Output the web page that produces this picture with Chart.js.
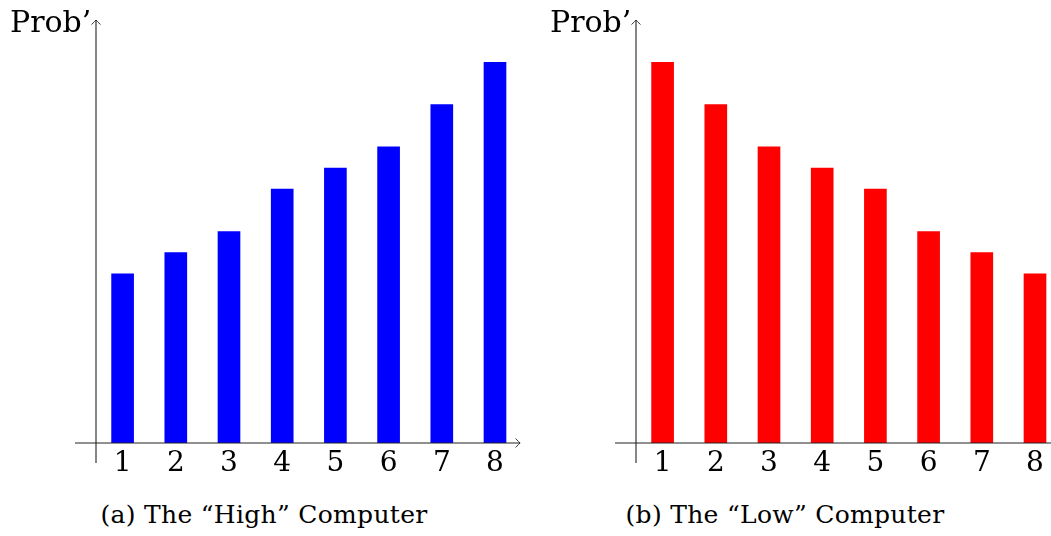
<!DOCTYPE html>
<html>
<head>
<meta charset="utf-8">
<script src="https://cdn.jsdelivr.net/npm/chart.js@4.4.1/dist/chart.umd.min.js"></script>
<style>
    html, body { margin: 0; padding: 0; background: #fff; }
    body { width: 1051px; height: 536px; position: relative; overflow: hidden; }
    .panel { position: absolute; top: 0; width: 540px; height: 490px; }
    .ylabel, .caption {
        position: absolute;
        font-family: 'DejaVu Serif', serif;
        color: #000;
        white-space: nowrap;
    }
    .ylabel { font-size: 30px; line-height: 30px; top: 7px; }
    .caption { font-size: 25px; line-height: 25px; letter-spacing: 0.3px; top: 502px; transform: translateX(-50%); }
</style>
</head>
<body>
<div class="panel" style="left:0"><canvas id="highChart" width="540" height="490"></canvas></div>
<div class="panel" style="left:540px"><canvas id="lowChart" width="540" height="490"></canvas></div>
<div class="ylabel" style="left:10px">Prob’</div>
<div class="ylabel" style="left:550px">Prob’</div>
<div class="caption" style="left:264px">(a) The “High” Computer</div>
<div class="caption" style="left:785px">(b) The “Low” Computer</div>

<script>
// Data
const categories = ['1', '2', '3', '4', '5', '6', '7', '8'];
const highValues = [8, 9, 10, 12, 13, 14, 16, 18];
const lowValues = [18, 16, 14, 13, 12, 10, 9, 8];
const yMin = 0;
const yMax = 20;

const serifFont = "'DejaVu Serif', serif";

// tikz style "->" tip
function arrowTip(ctx, tx, ty, dir) {
    ctx.save();
    ctx.translate(tx, ty);
    ctx.rotate(dir);
    ctx.lineWidth = 0.9;
    ctx.beginPath();
    ctx.moveTo(-4.5, -4.5);
    ctx.quadraticCurveTo(-1.2, -0.9, 0, 0);
    ctx.quadraticCurveTo(-1.2, 0.9, -4.5, 4.5);
    ctx.stroke();
    ctx.restore();
}

const axisArrows = {
    id: 'axisArrows',
    afterDraw(chart) {
        const { ctx, chartArea, scales } = chart;
        const y0 = scales.y.getPixelForValue(0);
        const ox = chartArea.left;
        ctx.save();
        ctx.strokeStyle = '#222';
        ctx.lineWidth = 1.1;

        // x axis
        ctx.beginPath();
        ctx.moveTo(ox - 21, y0);
        ctx.lineTo(chartArea.right - 1.5, y0);
        ctx.stroke();
        arrowTip(ctx, chartArea.right - 1.5, y0, 0);

        // y axis
        ctx.beginPath();
        ctx.moveTo(ox, scales.y.getPixelForValue(-0.95));
        ctx.lineTo(ox, chartArea.top);
        ctx.stroke();
        arrowTip(ctx, ox, chartArea.top, -Math.PI / 2);
        ctx.restore();
    }
};

function makeChart(id, values, color) {
    const ctx = document.getElementById(id).getContext('2d');
    return new Chart(ctx, {
        type: 'bar',
        data: {
            labels: categories,
            datasets: [{
                data: values,
                backgroundColor: color,
                borderWidth: 0,
                barThickness: 22
            }]
        },
        options: {
            responsive: false,
            animation: false,
            layout: { padding: { left: 96, right: 18.4, top: 20, bottom: 0 } },
            plugins: { legend: { display: false }, tooltip: { enabled: false } },
            scales: {
                x: {
                    offset: true,
                    grid: { display: false, drawTicks: false },
                    border: { display: false },
                    ticks: {
                        color: '#000',
                        padding: 4,
                        autoSkip: false,
                        maxRotation: 0,
                        font: { family: serifFont, size: 28 }
                    },
                    afterFit(scale) { scale.height = 47; }
                },
                y: { display: false, min: yMin, max: yMax }
            }
        },
        plugins: [axisArrows]
    });
}

makeChart('highChart', highValues, '#0000ff');
makeChart('lowChart', lowValues, '#ff0000');
</script>
</body>
</html>
